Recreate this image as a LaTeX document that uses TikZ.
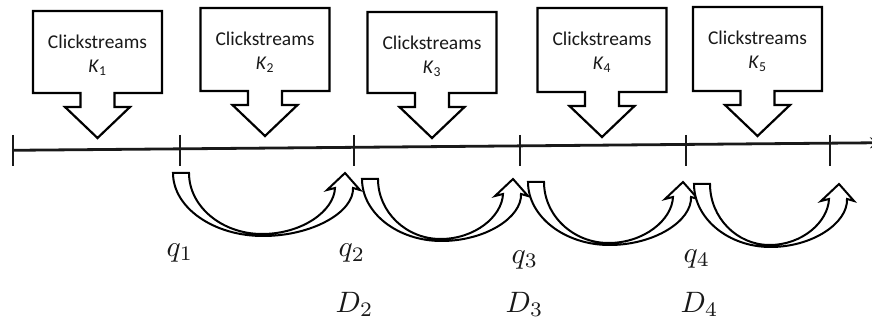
\documentclass[tikz,border=0pt]{standalone}
\usepackage{fontspec}
\newfontfamily\boxfont{Carlito}
\usetikzlibrary{arrows.meta}

\tikzset{
  boxline/.style={draw=black, line width=2.2pt, fill=white, line join=miter},
  boxtext/.style={font=\boxfont\fontsize{19.5}{22}\selectfont, text=black!90, inner sep=0pt},
  bandline/.style={draw=black, line width=2pt, fill=white, line join=miter},
  axisline/.style={line width=2.8pt, draw=black!90},
  tickline/.style={line width=2.5pt, draw=black!90},
  mathlbl/.style={font=\fontsize{10}{12}\selectfont, scale=2.95, inner sep=0pt, anchor=base west, text=black!90},
}

% Downward callout box: name, centre x, top y, bottom y, index
\newcommand\clickbox[5]{%
  \draw[boxline] ({#2-64.5},#3) -- ({#2+64.5},#3) -- ({#2+64.5},#4)
    -- ({#2+17},#4) -- ({#2+17},{#4+14}) -- ({#2+32.5},{#4+14})
    -- (#2,{#4+45}) -- ({#2-32.5},{#4+14}) -- ({#2-17},{#4+14})
    -- ({#2-17},#4) -- ({#2-64.5},#4) -- cycle;
  \node[boxtext] (#1) at (#2,{#3+31}) {Clickstreams};
  \node[boxtext] (#1k) at (#2,{#3+57}) {\textit{K}\textsubscript{#5}};
}

% Hollow bent arrow: left x of tail, x of tip, top y, bottom y
\newcommand\bendarrow[4]{%
  \pgfmathsetmacro\oR{#2+8}
  \pgfmathsetmacro\iL{#1+16}
  \pgfmathsetmacro\iR{#2-10}
  \pgfmathsetmacro\mo{(#1+\oR)/2}
  \pgfmathsetmacro\mi{(\iL+\iR)/2}
  \pgfmathsetmacro\hY{#3+15}
  \pgfmathsetmacro\wY{#3+17}
  \pgfmathsetmacro\iB{#4-2}
  \draw[bandline] (#1,#3)
    .. controls (#1,{#3+0.55*(#4-#3)}) and ({\mo-0.55*(\mo-#1)},#4) .. (\mo,#4)
    .. controls ({\mo+0.55*(\oR-\mo)},#4) and ({\oR+1},{\hY+0.5*(#4-\hY)}) .. (\oR,\hY)
    -- ({#2+15},\wY) -- (#2,#3) -- ({#2-18},\wY) -- (\iR,\hY)
    .. controls ({\iR-1},{\hY+0.5*(\iB-\hY)}) and ({\mi+0.55*(\iR-\mi)},\iB) .. (\mi,\iB)
    .. controls ({\mi-0.55*(\mi-\iL)},\iB) and (\iL,{#3+0.55*(\iB-#3)}) .. (\iL,#3)
    -- cycle;
}

\begin{document}
\begin{tikzpicture}[x=1pt, y=-1pt]
  \useasboundingbox (0,0) rectangle (872,320);
  \clip (0,0) rectangle (872,320);

  % time axis
  \coordinate (a0) at (13,150.3);
  \coordinate (a1) at (180,148.9);
  \coordinate (a2) at (354,147.4);
  \coordinate (a3) at (520,146.0);
  \coordinate (a4) at (686,144.5);
  \coordinate (a5) at (830,143.3);
  \coordinate (aend) at (884,142.7);
  \draw[axisline, -{Stealth[length=14pt, width=11pt]}] (a0) -- (aend);
  \foreach \t in {a0,a1,a2,a3,a4,a5}
    \draw[tickline] (\t |- 0,135) -- (\t |- 0,166);

  % incoming clickstream batches
  \clickbox{c1}{97.5}{11}{93}{1}
  \clickbox{c2}{265}{8}{91}{2}
  \clickbox{c3}{432}{12}{93}{3}
  \clickbox{c4}{602}{8}{92}{4}
  \clickbox{c5}{757.5}{7}{91}{5}

  % transitions between periods
  \bendarrow{173}{345}{173}{236}
  \bendarrow{362}{513}{179}{241}
  \bendarrow{528}{683}{182}{245}
  \bendarrow{694}{839}{184}{247}

  % period labels
  \node[mathlbl] (q1) at (166,256) {$q_1$};
  \node[mathlbl] (q2) at (338,257) {$q_2$};
  \node[mathlbl] (q3) at (511,263) {$q_3$};
  \node[mathlbl] (q4) at (683,262) {$q_4$};
  \node[mathlbl] (d2) at (335,312) {$D_2$};
  \node[mathlbl] (d3) at (505,312) {$D_3$};
  \node[mathlbl] (d4) at (680,312) {$D_4$};
\end{tikzpicture}
\end{document}
